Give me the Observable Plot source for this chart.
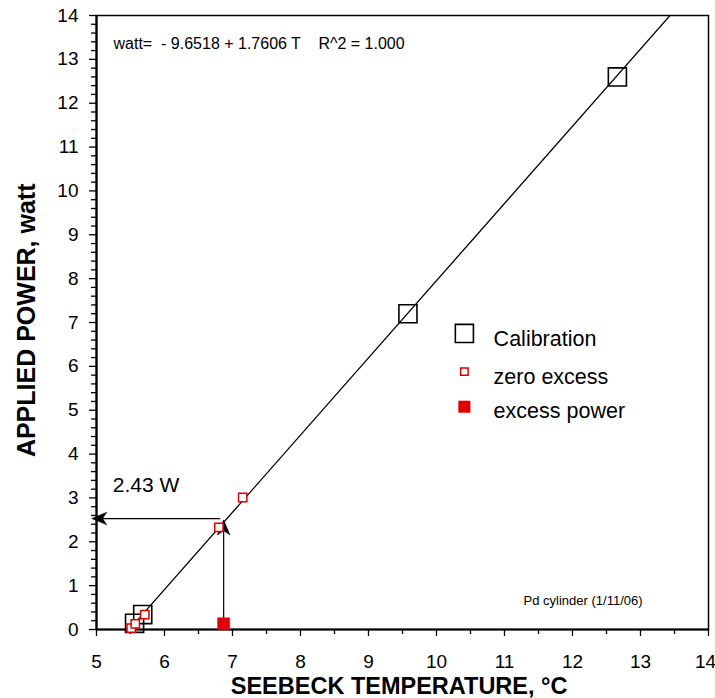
<!DOCTYPE html>
<html>
<head>
<meta charset="utf-8">
<script src="https://cdn.jsdelivr.net/npm/d3@7"></script>
<script src="https://cdn.jsdelivr.net/npm/@observablehq/plot@0.6"></script>
<style>
  html, body { margin: 0; padding: 0; background: #fff; }
  svg { font-family: "Liberation Sans", Arial, sans-serif; }
</style>
</head>
<body>
<div id="chart"></div>
<script>
// Calibration points (large open black squares)
const calT = [12.66, 9.58, 5.56, 5.68];
const calW = [12.60, 7.20, 0.14, 0.34];
// Zero excess (small open red squares)
const zeroT = [5.51, 5.57, 5.71, 6.80, 7.15];
const zeroW = [0.03, 0.13, 0.34, 2.33, 3.01];
// Excess power (filled red square)
const excT = [6.87];
const excW = [0.13];
// Linear fit: watt = a + b T
const fitA = -9.6518;
const fitB = 1.7606;
const fitRange = [5.5, 14];
// Annotation arrows
const hArrow = {t1: 6.82, t2: 4.93, w: 2.53};
const vArrow = {t: 6.87, w1: 0.13, w2: 2.50};
// Tick labels
const xTicks = d3.range(5, 15, 1);
const yTicks = d3.range(0, 15, 1);
const legendLabels = ["Calibration", "zero excess", "excess power"];
const eqText = "watt=  - 9.6518 + 1.7606 T    R^2 = 1.000";
const noteText = "Pd cylinder (1/11/06)";
const arrowLabel = "2.43 W";

const cal = calT.map((t, i) => ({t, w: calW[i]}));
const zero = zeroT.map((t, i) => ({t, w: zeroW[i]}));
const exc = excT.map((t, i) => ({t, w: excW[i]}));
const fit = fitRange.map(t => ({t, w: fitA + fitB * t}));

const stealth = {
  draw(context, size) {
    const L = Math.sqrt(size);
    context.moveTo(0, 0);
    context.lineTo(-L * 0.42, L);
    context.lineTo(0, L * 0.72);
    context.lineTo(L * 0.42, L);
    context.closePath();
  }
};

const legendX = 10.41, legendTX = 10.84;
const legendY = [6.75, 5.88, 5.08];
const legendTY = [6.61, 5.75, 4.97];

const chart = Plot.plot({
  width: 715,
  height: 698,
  marginLeft: 96,
  marginRight: 7,
  marginTop: 15,
  marginBottom: 69,
  style: {fontFamily: '"Liberation Sans", Arial, sans-serif', background: "#fff", overflow: "visible"},
  x: {domain: [5, 14]},
  y: {domain: [0, 14]},
  marks: [
    // minor ticks
    Plot.axisX({ticks: d3.range(5.5, 14, 1), tickSize: 5, tickFormat: () => "", strokeWidth: 1.3}),
    Plot.axisY({ticks: d3.range(0, 14.01, 0.2).filter(v => Math.abs(v - Math.round(v)) > 1e-6), tickSize: 5, tickFormat: () => "", strokeWidth: 1.3}),
    // major ticks
    Plot.axisX({ticks: xTicks, tickSize: 7, tickFormat: () => "", label: null, strokeWidth: 1.3}),
    Plot.axisY({ticks: yTicks, tickSize: 7, tickPadding: 11, fontSize: 19, tickFormat: d => String(d), label: null, strokeWidth: 1.3}),
    // x tick labels
    Plot.text(xTicks.slice(0, -1), {x: d => d, y: () => 0, dy: 32, text: d => String(d), fontSize: 19, fill: "#000"}),
    Plot.text(xTicks.slice(-1), {x: d => d, y: () => 0, dy: 32, dx: -3, text: d => String(d), fontSize: 19, fill: "#000"}),
    Plot.frame({stroke: "#000", strokeWidth: 1.5}),
    Plot.ruleY([0], {stroke: "#000", strokeWidth: 2.2}),
    Plot.ruleX([5], {stroke: "#000", strokeWidth: 2.2}),
    // fit line
    Plot.line(fit, {x: "t", y: "w", stroke: "#000", strokeWidth: 1.3, clip: true}),
    // arrows
    Plot.link([hArrow], {x1: "t1", x2: d => d.t2 + 0.15, y1: "w", y2: "w", stroke: "#000", strokeWidth: 1.2}),
    Plot.link([vArrow], {x1: "t", x2: "t", y1: "w1", y2: d => d.w2 - 0.25, stroke: "#000", strokeWidth: 1.2}),
    Plot.dot([hArrow], {x: "t2", y: "w", symbol: stealth, r: 8.5, fill: "#000", stroke: "#000", strokeWidth: 0.5, rotate: -90}),
    Plot.dot([vArrow], {x: "t", y: "w2", symbol: stealth, r: 8.5, fill: "#000", stroke: "#000", strokeWidth: 0.5, rotate: 0}),
    // data
    Plot.dot(cal, {x: "t", y: "w", symbol: "square", r: 10.2, stroke: "#000", strokeWidth: 1.6, fill: "none"}),
    Plot.dot(zero, {x: "t", y: "w", symbol: "square", r: 4.7, stroke: "#e00000", strokeWidth: 1.5, fill: "#fff"}),
    Plot.dot(exc, {x: "t", y: "w", symbol: "square", r: 6.8, fill: "#e00000", stroke: "#e00000", strokeWidth: 0.5}),
    // legend
    Plot.dot([0], {x: () => legendX, y: () => legendY[0], symbol: "square", r: 10.2, stroke: "#000", strokeWidth: 1.6, fill: "none"}),
    Plot.dot([0], {x: () => legendX, y: () => legendY[1], symbol: "square", r: 4.2, stroke: "#e00000", strokeWidth: 1.5, fill: "#fff"}),
    Plot.dot([0], {x: () => legendX, y: () => legendY[2], symbol: "square", r: 6.5, fill: "#e00000", stroke: "#e00000", strokeWidth: 0.5}),
    Plot.text(legendLabels, {x: () => legendTX, y: (d, i) => legendTY[i], text: d => d, textAnchor: "start", fontSize: 21.5, fill: "#000"}),
    // annotations
    Plot.text([eqText], {x: () => 5.25, y: () => 13.36, text: d => d, textAnchor: "start", fontSize: 16, fill: "#000"}),
    Plot.text([noteText], {x: () => 13.03, y: () => 0.66, text: d => d, textAnchor: "end", fontSize: 13, fill: "#000"}),
    Plot.text([arrowLabel], {x: () => 5.24, y: () => 3.3, text: d => d, textAnchor: "start", fontSize: 21, fill: "#000"}),
    // axis titles
    Plot.text(["SEEBECK TEMPERATURE, °C"], {x: () => 9.45, y: () => 0, dy: 57, text: d => d, fontSize: 23.5, fontWeight: "bold", fill: "#000"}),
    Plot.text(["APPLIED POWER, watt"], {x: () => 5, y: () => 7.05, dx: -70, rotate: -90, text: d => d, fontSize: 25, fontWeight: "bold", fill: "#000"})
  ]
});
document.getElementById("chart").appendChild(chart);
</script>
</body>
</html>
